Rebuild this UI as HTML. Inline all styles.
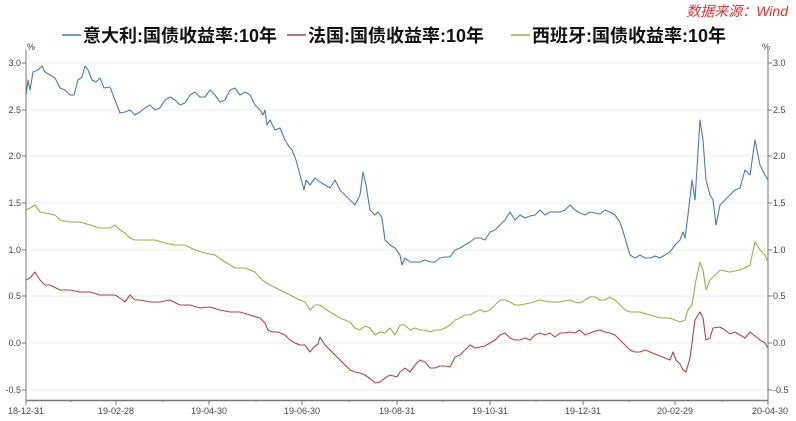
<!DOCTYPE html><html><head><meta charset="utf-8"><style>body{margin:0;background:#fff}svg{display:block}</style></head><body>
<svg width="796" height="421" xmlns="http://www.w3.org/2000/svg" font-family="Liberation Sans, Noto Sans CJK SC, sans-serif">
<text x="788" y="16" text-anchor="end" fill="#e03030" font-style="italic" font-size="14">数据来源：Wind</text>
<g font-size="18" font-weight="bold" fill="#111">
<line x1="62" y1="35" x2="81" y2="35" stroke="#4a7ab5" stroke-width="1.5"/><text x="83" y="42">意大利:国债收益率:10年</text>
<line x1="287" y1="35" x2="306" y2="35" stroke="#b04545" stroke-width="1.5"/><text x="308" y="42">法国:国债收益率:10年</text>
<line x1="511" y1="35" x2="530" y2="35" stroke="#9aae4a" stroke-width="1.5"/><text x="532" y="42">西班牙:国债收益率:10年</text>
</g>
<g stroke="#eee" stroke-width="1">
<line x1="26" y1="63" x2="768" y2="63"/><line x1="26" y1="110" x2="768" y2="110"/><line x1="26" y1="156" x2="768" y2="156"/><line x1="26" y1="203" x2="768" y2="203"/><line x1="26" y1="250" x2="768" y2="250"/><line x1="26" y1="296" x2="768" y2="296"/><line x1="26" y1="343" x2="768" y2="343"/><line x1="26" y1="390" x2="768" y2="390"/>
</g>
<g stroke="#777" stroke-width="1" fill="none">
<line x1="26" y1="50" x2="26" y2="400"/><line x1="768" y1="50" x2="768" y2="400"/><line x1="26" y1="400.5" x2="768" y2="400.5" stroke-width="1.5"/>
<path d="M22 63h4M22 110h4M22 156h4M22 203h4M22 250h4M22 296h4M22 343h4M22 390h4M768 63h4M768 110h4M768 156h4M768 203h4M768 250h4M768 296h4M768 343h4M768 390h4"/>
<path d="M26 400v5M116 400v5M209 400v5M302 400v5M397 400v5M490 400v5M583 400v5M675 400v5M768 400v5M71 400v2M163 400v2M256 400v2M349 400v2M443 400v2M536 400v2M629 400v2M722 400v2"/>
</g>
<g font-size="9" fill="#444">
<text x="27" y="50">%</text><text x="762" y="50">%</text>
<g text-anchor="end"><text x="21" y="66">3.0</text><text x="21" y="113">2.5</text><text x="21" y="159">2.0</text><text x="21" y="206">1.5</text><text x="21" y="253">1.0</text><text x="21" y="299">0.5</text><text x="21" y="346">0.0</text><text x="21" y="393">-0.5</text></g>
<text x="773" y="66">3.0</text><text x="773" y="113">2.5</text><text x="773" y="159">2.0</text><text x="773" y="206">1.5</text><text x="773" y="253">1.0</text><text x="773" y="299">0.5</text><text x="773" y="346">0.0</text><text x="773" y="393">-0.5</text>
<g text-anchor="middle"><text x="26" y="414">18-12-31</text><text x="116" y="414">19-02-28</text><text x="209" y="414">19-04-30</text><text x="302" y="414">19-06-30</text><text x="397" y="414">19-08-31</text><text x="490" y="414">19-10-31</text><text x="583" y="414">19-12-31</text><text x="675" y="414">20-02-29</text><text x="770" y="414">20-04-30</text></g>
</g>
<g fill="none" stroke-width="1.1" stroke-linejoin="round">
<polyline stroke="#4a7ab5" points="26,95 28,80 30,90 33,72 38,70 42,66 45,72 50,75 55,78 60,88 65,90 70,95 74,95 78,80 82,77 85,66 88,70 92,80 96,82 100,78 104,88 110,87 115,100 120,113 125,112 130,110 135,115 140,112 145,108 150,105 155,110 160,108 165,100 170,97 175,100 180,105 185,103 190,95 195,92 200,97 205,97 210,90 215,95 220,102 225,100 230,90 235,88 240,95 245,92 250,95 255,105 260,110 263,115 265,110 267,125 270,120 275,130 280,128 285,140 288,145 292,150 296,160 300,175 304,190 306,180 310,185 315,178 320,182 325,185 330,188 335,180 340,190 345,195 350,200 355,205 360,195 363,172 366,185 370,210 375,215 378,212 382,218 385,240 390,245 395,248 400,255 402,265 405,258 410,262 415,262 420,262 425,260 430,262 435,262 440,258 445,257 450,257 455,250 460,248 465,245 470,242 475,238 480,238 485,240 490,232 495,230 500,225 505,220 510,212 515,220 520,215 525,218 530,216 535,215 540,210 545,215 550,212 555,212 560,212 565,210 570,205 575,210 580,213 585,215 590,212 595,213 600,214 605,210 610,212 615,215 620,222 625,238 630,255 635,258 640,255 645,258 650,258 655,256 660,258 665,255 670,252 675,245 680,240 683,232 685,238 688,215 692,180 695,200 700,120 703,140 706,180 710,195 713,200 716,225 720,205 725,200 730,195 735,190 740,188 745,170 750,175 755,140 760,165 765,175 768,180"/>
<polyline stroke="#b04545" points="26,280 30,278 35,272 40,280 45,285 50,285 60,290 70,290 80,292 90,292 100,295 110,295 115,295 120,298 125,302 130,295 135,300 140,300 150,302 160,302 170,300 180,305 190,305 200,308 210,307 220,310 230,312 240,312 250,315 260,318 265,323 268,330 272,332 278,332 285,335 290,340 295,343 300,345 305,345 310,352 314,347 318,344 320,337 325,345 330,350 335,355 340,360 345,365 350,370 355,372 360,373 365,375 372,380 375,383 380,382 385,378 390,375 397,377 400,372 405,368 410,372 415,365 420,360 425,362 430,368 435,368 440,366 445,366 450,367 455,357 460,355 465,350 470,345 475,348 480,347 485,346 490,343 495,340 500,335 505,333 510,338 515,340 520,340 525,338 530,340 535,335 540,333 545,335 550,333 555,337 560,333 565,333 570,332 575,333 580,330 585,335 590,333 595,331 600,330 605,332 610,333 615,335 620,340 625,345 630,350 635,352 640,352 645,350 650,352 655,354 660,356 665,358 670,360 673,352 676,360 680,364 683,370 686,372 690,358 695,320 700,312 703,318 706,340 710,338 713,328 720,327 725,330 730,334 735,332 740,335 745,338 750,332 755,336 760,340 765,343 768,348"/>
<polyline stroke="#9aae4a" points="26,210 30,208 35,205 40,212 45,213 55,215 60,220 70,222 80,222 90,225 100,228 110,228 115,225 120,230 125,233 130,238 135,240 145,240 155,240 165,243 175,245 185,245 195,250 205,253 215,255 225,262 235,268 245,268 255,272 262,280 270,285 280,290 290,295 300,300 305,302 310,310 315,305 320,305 330,312 340,318 350,322 355,328 360,330 365,326 370,328 375,335 380,332 385,333 390,328 395,335 400,325 405,325 410,330 415,328 420,330 425,330 430,332 435,330 440,330 445,328 450,325 455,320 460,318 465,315 470,315 475,312 480,310 485,312 490,310 495,305 500,300 505,300 510,302 515,305 520,305 530,303 540,300 550,302 560,302 570,300 575,302 580,303 585,300 590,297 595,297 600,300 605,300 610,297 615,300 620,305 625,310 630,312 640,312 650,315 660,318 670,318 675,320 680,322 685,320 688,310 692,305 696,280 700,262 703,270 706,290 710,280 715,275 720,270 730,272 740,270 745,268 750,265 755,242 760,250 765,255 768,262"/>
</g>
</svg></body></html>
